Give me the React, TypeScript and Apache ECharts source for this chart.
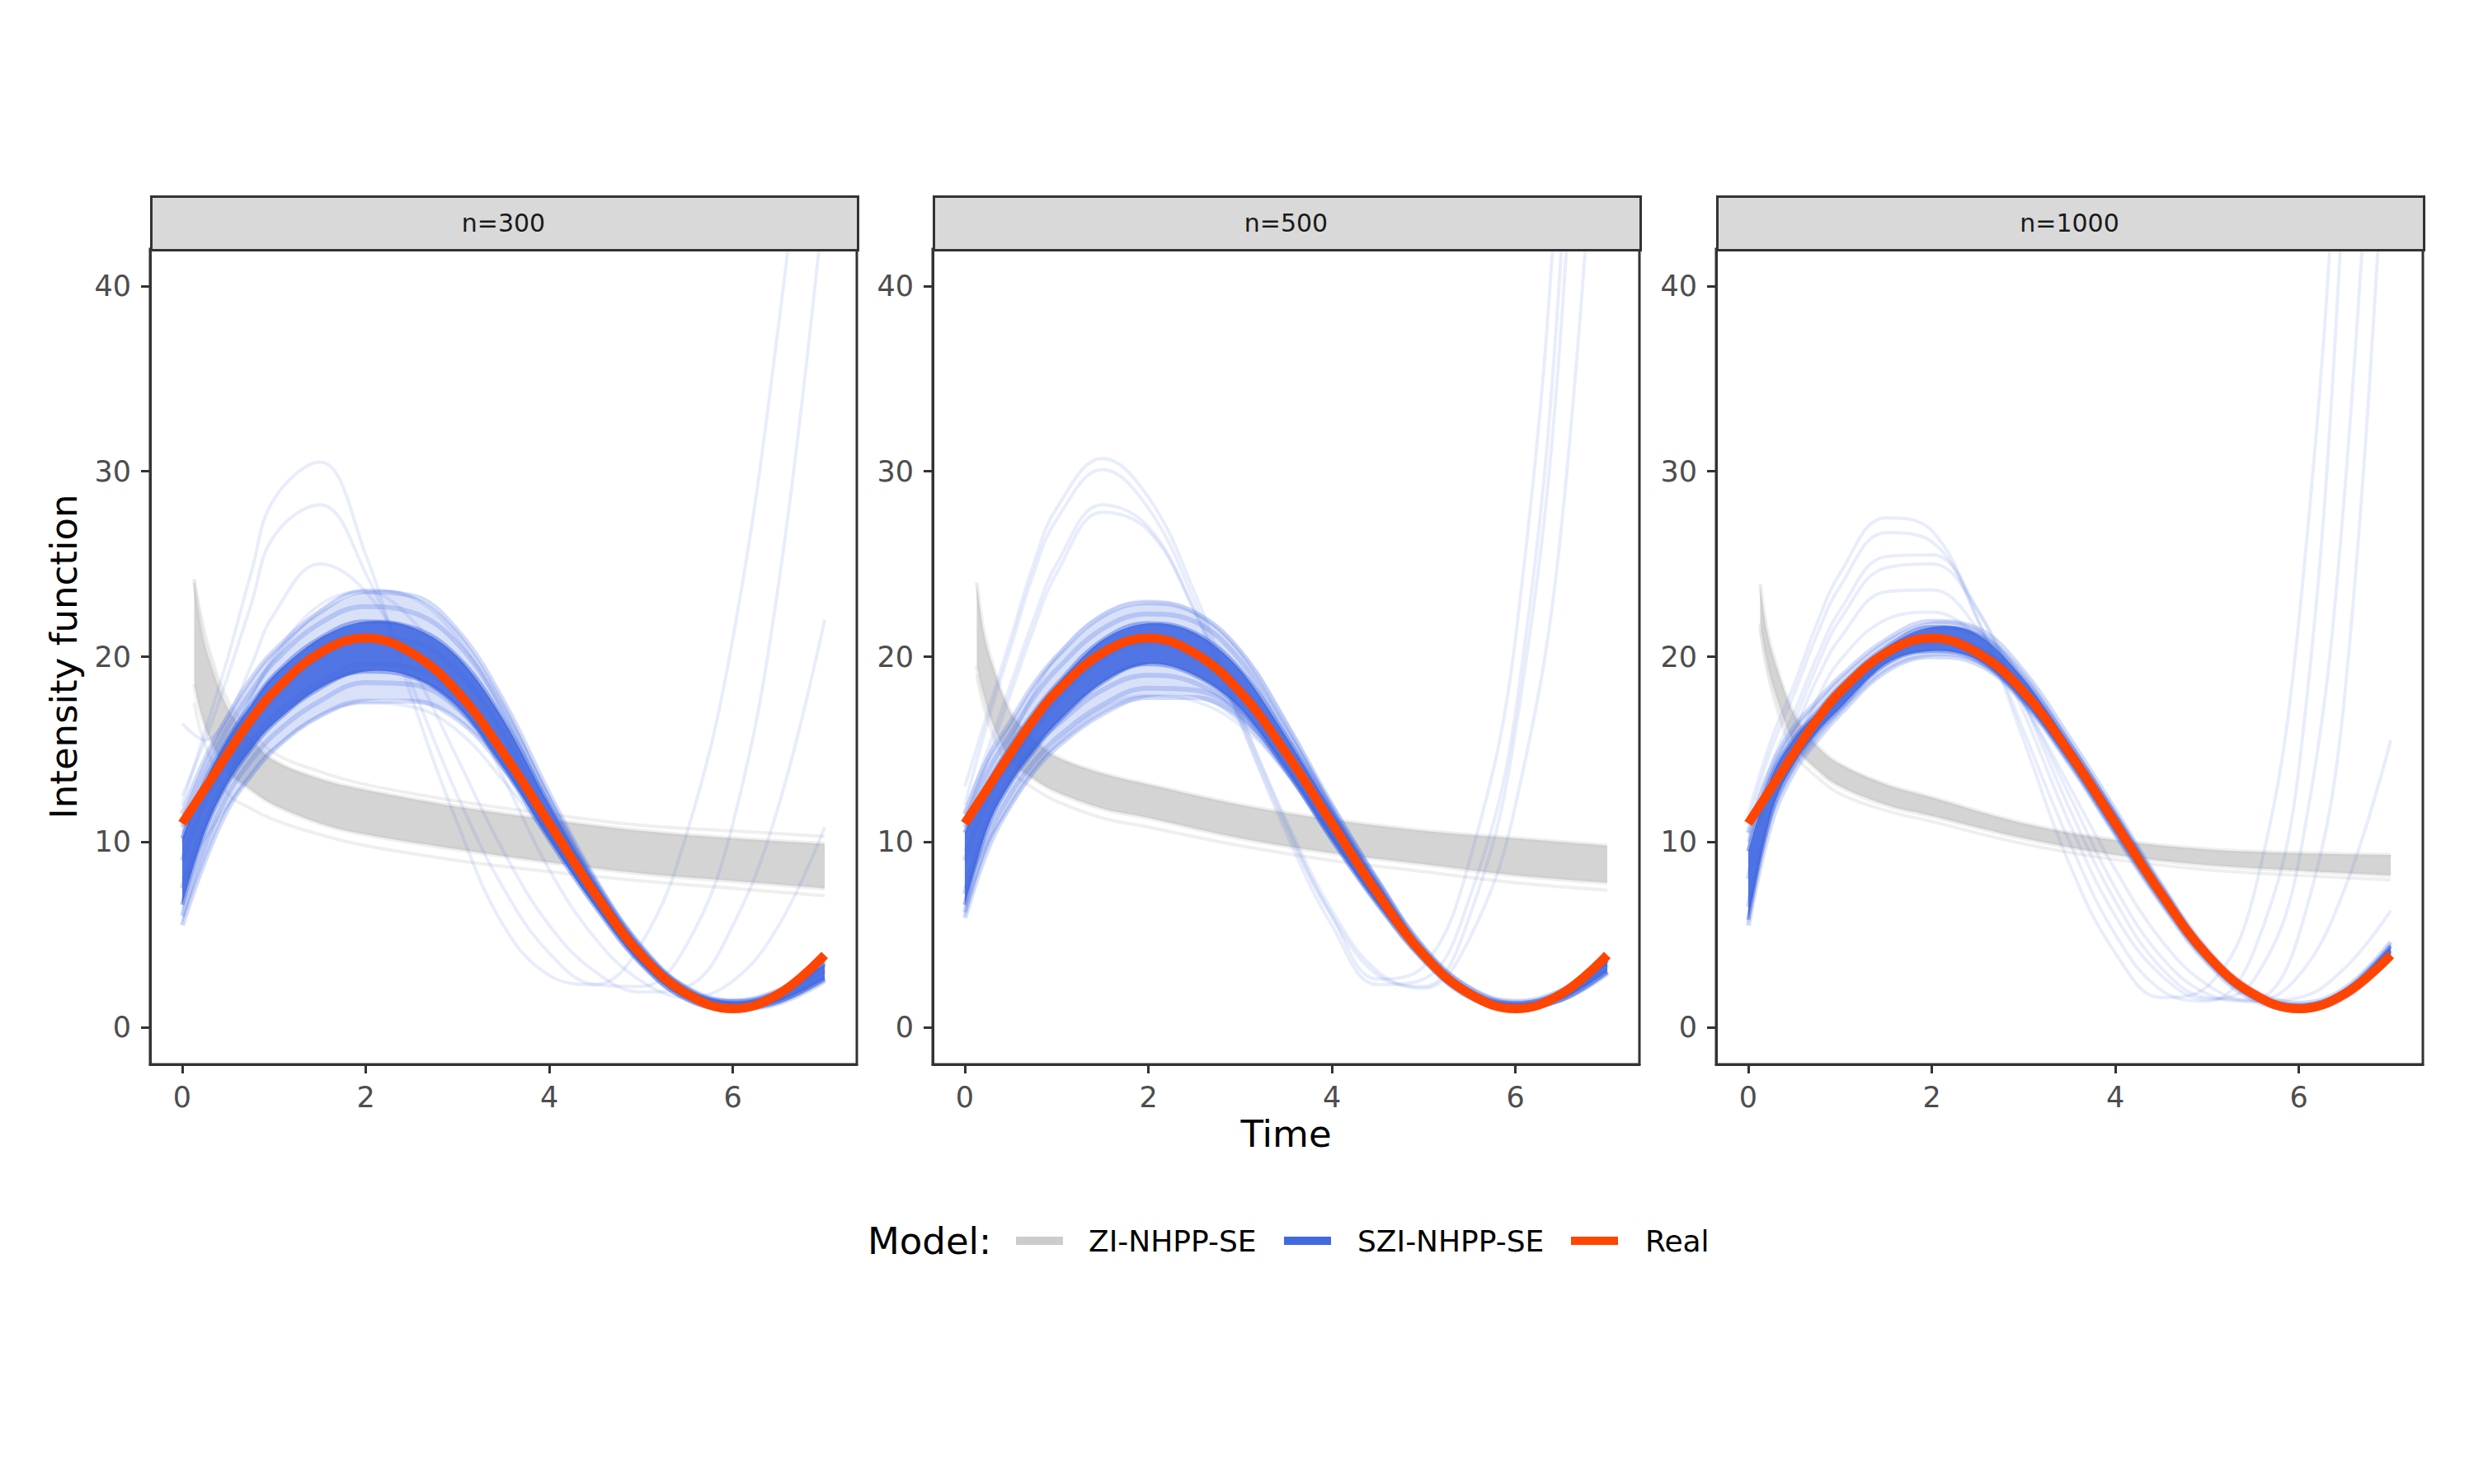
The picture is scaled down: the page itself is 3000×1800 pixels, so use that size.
import React, { useEffect, useRef } from 'react';
import * as echarts from 'echarts';

// ---------- data ----------
const PANEL_LABELS = ['n=300', 'n=500', 'n=1000'];
const X_TICKS = [0, 2, 4, 6];
const Y_TICKS = [0, 10, 20, 30, 40];

const T = [0, 0.25, 0.5, 0.75, 1, 1.5, 2, 2.5, 3, 3.5, 4, 4.5, 5, 5.5, 6, 6.5, 7];
const TG = [0.13, 0.2, 0.3, 0.5, 0.75, 1, 1.5, 2, 3, 4, 5, 6, 7];

const REAL = [11, 12.9, 14.8, 16.6, 18.1, 20.2, 21, 20.2, 18.1, 14.8, 11, 7.2, 3.9, 1.8, 1, 1.8, 3.9];

// n=300
const ZI_HI_300 = [24.2, 21.8, 19.8, 17.2, 15.6, 14.4, 13.4, 12.8, 11.9, 11.2, 10.6, 10.2, 9.9];
const ZI_LO_300 = [18.5, 17.0, 15.6, 13.8, 12.8, 12.0, 11.0, 10.4, 9.6, 8.9, 8.3, 7.9, 7.5];
const ZI_FAINT_300 = [
  [17.5, 16, 14.6, 12.6, 11.8, 11.2, 10.4, 9.8, 9.0, 8.4, 7.9, 7.5, 7.1],
  [24, 22.3, 20.3, 17.6, 16.0, 14.8, 13.8, 13.1, 12.2, 11.5, 10.9, 10.6, 10.3],
];
const SZI_HI_300 = [10.2, 13.3, 15.6, 17.4, 19.0, 21.0, 21.9, 21.6, 20.0, 16.6, 12.0, 7.8, 4.3, 2.1, 1.4, 1.9, 3.4];
const SZI_LO_300 = [6.6, 10.6, 13.2, 15.0, 16.4, 18.3, 19.2, 18.9, 17.3, 14.0, 10.1, 6.5, 3.4, 1.5, 1.0, 1.4, 2.6];
const SZI_OUTER_HI_300 = [11.5, 14.5, 16.8, 18.8, 20.3, 22.4, 23.5, 23.3, 21.4, 17.6, 12.6, 8.0, 4.4, 2.1, 1.4, 2.0, 3.6];
const SZI_OUTER_LO_300 = [5.5, 9.0, 11.8, 13.6, 15.0, 16.8, 17.6, 17.6, 16.6, 14.0, 10.1, 6.5, 3.4, 1.5, 1.0, 1.3, 2.5];
const SZI_LINES_300 = [
  [11.5, 14.5, 16.8, 18.8, 20.3, 22.4, 23.5, 23.3, 21.4, 17.6, 12.6, 8.0, 4.3, 2.0, 1.3, 1.9, 3.5],
  [10.8, 13.8, 16.2, 18.1, 19.7, 21.8, 22.7, 22.4, 20.7, 17.1, 12.3, 7.9, 4.4, 2.1, 1.4, 2.0, 3.6],
  [7.5, 11.0, 13.5, 15.3, 16.8, 18.6, 19.6, 19.4, 17.9, 14.6, 10.6, 6.8, 3.6, 1.6, 1.0, 1.4, 2.7],
  [6.0, 9.8, 12.6, 14.4, 15.8, 17.6, 18.6, 18.5, 17.2, 14.2, 10.4, 6.7, 3.5, 1.5, 1.0, 1.3, 2.5],
  [5.5, 9.0, 11.8, 13.6, 15.0, 16.8, 17.6, 17.6, 16.6, 14.0, 10.5, 6.9, 3.8, 1.7, 1.1, 1.4, 2.6],
  [9.0, 12.2, 14.6, 16.4, 18.0, 20.0, 21.0, 20.8, 19.2, 15.8, 11.3, 7.3, 4.0, 1.9, 1.2, 1.7, 3.1],
];
const SZI_OUT_300 = [
  [12, 16, 20, 24.5, 28.5, 30.5, 25.5, 17.8, 11, 5.5, 2.8, 2.3, 4.5, 10.5, 21, 38, 60],
  [12.5, 15.5, 19, 22.8, 26.5, 28.2, 24.5, 18.5, 12.5, 7.5, 4, 2.3, 2.2, 4.5, 11, 24, 45],
  [16.4, 15.5, 16.8, 19.5, 22.3, 25, 23.5, 19.5, 14.5, 9.5, 5.5, 3, 1.9, 2.2, 5.5, 12, 22],
  [10.5, 13, 15.5, 17.8, 20, 22.8, 23.5, 22, 18.5, 13.5, 8.5, 4.8, 2.5, 1.6, 2.5, 5.5, 10.8],
  [8, 10.2, 12, 13.6, 15, 16.8, 17.5, 17.3, 16, 13.3, 10.2, 6.8, 4, 2.2, 1.5, 2, 3],
  [10, 13, 15.5, 17.8, 19.8, 22.5, 23.6, 23.2, 21, 17, 12, 7.2, 3.5, 1.6, 1.2, 2, 3.3],
];

// n=500
const ZI_HI_500 = [24.0, 21.5, 19.6, 17.0, 15.6, 14.6, 13.7, 13.1, 12.0, 11.2, 10.6, 10.2, 9.8];
const ZI_LO_500 = [19.5, 18.0, 16.4, 14.4, 13.4, 12.7, 11.8, 11.3, 10.2, 9.4, 8.8, 8.2, 7.8];
const ZI_FAINT_500 = [
  [19, 17.4, 15.9, 13.9, 12.9, 12.2, 11.3, 10.8, 9.8, 9.0, 8.4, 7.8, 7.4],
];
const SZI_HI_500 = [10.5, 13.2, 15.2, 17.0, 18.5, 20.9, 21.8, 21.3, 19.3, 15.7, 11.7, 7.8, 4.2, 2.0, 1.3, 1.9, 3.6];
const SZI_LO_500 = [6.6, 10.8, 13.2, 14.9, 16.4, 18.6, 19.6, 19.0, 17.2, 13.9, 10.1, 6.6, 3.6, 1.6, 1.0, 1.5, 3.0];
const SZI_OUTER_HI_500 = [11.5, 14.5, 16.5, 18.5, 20.0, 22.2, 22.9, 22.4, 20.3, 16.4, 12.0, 7.9, 4.3, 2.1, 1.4, 2.0, 3.7];
const SZI_OUTER_LO_500 = [5.9, 9.6, 12.0, 13.8, 15.1, 16.9, 17.8, 17.8, 16.6, 13.8, 10.1, 6.6, 3.6, 1.6, 1.0, 1.5, 2.9];
const SZI_LINES_500 = [
  [11.5, 14.5, 16.5, 18.5, 20.0, 22.2, 22.9, 22.4, 20.3, 16.4, 12.0, 7.9, 4.3, 2.1, 1.4, 2.0, 3.7],
  [10.8, 13.8, 15.8, 17.8, 19.3, 21.5, 22.3, 21.9, 19.8, 16.0, 11.9, 7.9, 4.3, 2.1, 1.3, 1.9, 3.6],
  [7.2, 11.2, 13.4, 15.1, 16.3, 18.2, 19.0, 18.6, 17.0, 13.9, 10.2, 6.7, 3.7, 1.7, 1.1, 1.5, 3.0],
  [6.2, 10.2, 12.6, 14.3, 15.6, 17.4, 18.3, 18.2, 16.9, 14.0, 10.4, 6.9, 3.8, 1.8, 1.1, 1.5, 3.0],
  [5.9, 9.6, 12.0, 13.8, 15.1, 16.9, 17.8, 17.8, 16.6, 13.8, 10.3, 6.9, 3.9, 1.9, 1.2, 1.5, 2.9],
  [9.0, 12.3, 14.4, 16.1, 17.6, 19.9, 20.8, 20.3, 18.4, 15.0, 11.1, 7.3, 4.0, 1.9, 1.2, 1.7, 3.4],
];
const SZI_OUT_500 = [
  [13, 17, 21, 25, 28, 30.7, 28.6, 23.5, 17, 11, 6, 2.6, 3.3, 9, 21, 50, 110],
  [12, 16.5, 20.5, 24.5, 27.4, 30.1, 28, 23, 16.5, 10.5, 5.5, 2.3, 2.6, 7, 17, 42, 95],
  [11.5, 15, 18.5, 22, 25, 28.2, 27, 22.5, 16.5, 10.8, 6, 2.8, 2.2, 6, 16, 38, 85],
  [11, 14.5, 18, 21.5, 24.5, 27.8, 26.8, 22.5, 16.8, 11.2, 6.3, 3, 2.1, 4.8, 12, 27, 60],
  [7.5, 10, 12, 13.8, 15.3, 17.2, 17.9, 17.6, 16.3, 13.8, 10.6, 7.2, 4.2, 2.2, 1.4, 1.8, 3.2],
  [9.5, 12.8, 15.5, 18, 20, 22.3, 23, 22.4, 20.3, 16.5, 11.8, 7.2, 3.6, 1.7, 1.3, 2, 3.4],
];

// n=1000
const ZI_HI_1000 = [23.9, 21.5, 19.6, 16.9, 15.2, 14.2, 13.1, 12.4, 11.0, 10.1, 9.6, 9.4, 9.3];
const ZI_LO_1000 = [21.8, 19.8, 17.9, 15.3, 13.9, 13.0, 12.0, 11.4, 10.2, 9.3, 8.75, 8.45, 8.2];
const ZI_FAINT_1000 = [
  [21.5, 19.4, 17.4, 14.8, 13.5, 12.6, 11.7, 11.1, 9.9, 9.05, 8.5, 8.2, 7.95],
];
const SZI_HI_1000 = [9.5, 13.5, 15.6, 17.0, 18.4, 20.5, 21.6, 21.2, 18.8, 15.3, 11.5, 7.6, 4.1, 1.9, 1.2, 2.0, 4.4];
const SZI_LO_1000 = [5.8, 11.5, 14.2, 15.9, 17.2, 19.6, 20.3, 19.8, 17.6, 14.3, 10.5, 6.8, 3.6, 1.6, 1.0, 1.7, 3.9];
const SZI_OUTER_HI_1000 = [10.5, 14.0, 16.2, 17.6, 18.9, 20.9, 21.9, 21.5, 19.2, 15.6, 11.7, 7.7, 4.2, 2.0, 1.3, 2.1, 4.6];
const SZI_OUTER_LO_1000 = [5.5, 11.0, 13.8, 15.5, 16.9, 19.2, 20.0, 19.6, 17.5, 14.2, 10.4, 6.7, 3.5, 1.5, 1.0, 1.6, 3.8];
const SZI_LINES_1000 = [
  [10.5, 14.0, 16.2, 17.6, 18.9, 20.9, 21.9, 21.5, 19.2, 15.6, 11.7, 7.7, 4.2, 2.0, 1.3, 2.1, 4.6],
  [8.0, 12.8, 15.0, 16.5, 17.8, 20.0, 21.0, 20.5, 18.2, 14.8, 11.0, 7.2, 3.9, 1.8, 1.1, 1.8, 4.1],
  [5.5, 11.0, 13.8, 15.5, 16.9, 19.2, 20.0, 19.6, 17.5, 14.2, 10.4, 6.7, 3.5, 1.5, 1.0, 1.6, 3.8],
  [6.5, 11.8, 14.6, 16.2, 17.6, 19.9, 20.8, 20.4, 18.3, 14.9, 11.1, 7.3, 4.0, 1.8, 1.1, 1.8, 4.2],
];
const SZI_OUT_1000 = [
  [11.5, 15.5, 18.5, 21.8, 24.5, 27.5, 26.8, 22, 15.5, 8.8, 4, 1.6, 2.2, 7, 22, 56, 110],
  [11, 15, 18, 21.2, 23.8, 26.7, 26.2, 22, 16, 10, 5, 2.0, 1.4, 4, 14, 46, 95],
  [10.5, 14.2, 17, 20, 22.5, 25.4, 25.5, 22.5, 17, 11, 6, 2.8, 1.5, 2.5, 9, 29, 70],
  [10, 13.8, 16.5, 19.5, 22, 24.8, 25, 22.5, 17.5, 11.8, 6.8, 3.2, 1.6, 1.5, 5, 18, 55],
  [10, 13.5, 16, 18.8, 21, 23.5, 23.6, 21.5, 17.5, 12.5, 7.5, 3.8, 1.8, 1.4, 2.8, 7.5, 15.5],
  [9.5, 12.8, 15, 17.7, 19.8, 22, 22.4, 21, 17.5, 13, 8.5, 4.7, 2.3, 1.4, 1.6, 3.2, 6.3],
];

const LEGEND_LABELS = ['ZI-NHPP-SE', 'SZI-NHPP-SE', 'Real'];

// ---------- styling / layout ----------
const FONT = 'DejaVu Sans';
const GRAY = '#bebebe';
const BLUE = '#4169E1';
const RED = '#FF4500';
const FRAME = '#333333';
const GRID_LEFT = [182, 1131, 2081];
const GRID_TOP = 302;
const GRID_W = 857;
const GRID_H = 989;
const STRIP_TOP = 237;
const STRIP_H = 65;

const PANELS = [
  { ziHi: ZI_HI_300, ziLo: ZI_LO_300, ziFaint: ZI_FAINT_300, sHi: SZI_HI_300, sLo: SZI_LO_300, oHi: SZI_OUTER_HI_300, oLo: SZI_OUTER_LO_300, sLines: SZI_LINES_300, sOut: SZI_OUT_300 },
  { ziHi: ZI_HI_500, ziLo: ZI_LO_500, ziFaint: ZI_FAINT_500, sHi: SZI_HI_500, sLo: SZI_LO_500, oHi: SZI_OUTER_HI_500, oLo: SZI_OUTER_LO_500, sLines: SZI_LINES_500, sOut: SZI_OUT_500 },
  { ziHi: ZI_HI_1000, ziLo: ZI_LO_1000, ziFaint: ZI_FAINT_1000, sHi: SZI_HI_1000, sLo: SZI_LO_1000, oHi: SZI_OUTER_HI_1000, oLo: SZI_OUTER_LO_1000, sLines: SZI_LINES_1000, sOut: SZI_OUT_1000 },
];

const pts = (xs: number[], ys: number[]) => xs.map((x, k) => [x, ys[k]]);

// Catmull-Rom segments through pixel points (drawing helper)
function curveThrough(p: number[][]): string {
  let d = '';
  for (let j = 0; j < p.length - 1; j++) {
    const p0 = p[Math.max(j - 1, 0)];
    const p1 = p[j];
    const p2 = p[j + 1];
    const p3 = p[Math.min(j + 2, p.length - 1)];
    const c1x = p1[0] + (p2[0] - p0[0]) / 6;
    const c1y = p1[1] + (p2[1] - p0[1]) / 6;
    const c2x = p2[0] - (p3[0] - p1[0]) / 6;
    const c2y = p2[1] - (p3[1] - p1[1]) / 6;
    d += ` C${c1x.toFixed(2)},${c1y.toFixed(2)} ${c2x.toFixed(2)},${c2y.toFixed(2)} ${p2[0].toFixed(2)},${p2[1].toFixed(2)}`;
  }
  return d;
}

// a filled band between a lower and an upper curve, placed through the axes' scales
function bandSeries(i: number, name: string, xs: number[], lo: number[], hi: number[], color: string, opacity: number, z: number) {
  return {
    type: 'custom',
    name,
    coordinateSystem: 'cartesian2d',
    xAxisIndex: i,
    yAxisIndex: i,
    silent: true,
    clip: true,
    z,
    data: xs.map((x, k) => [x, lo[k], hi[k]]),
    encode: { x: 0, y: [1, 2] },
    renderItem: (params: any, api: any) => {
      if (params.dataIndex !== 0) return null;
      const up = xs.map((x, k) => api.coord([x, hi[k]]));
      const dn = xs.map((x, k) => api.coord([x, lo[k]])).reverse();
      const d =
        `M${up[0][0].toFixed(2)},${up[0][1].toFixed(2)}` + curveThrough(up) +
        ` L${dn[0][0].toFixed(2)},${dn[0][1].toFixed(2)}` + curveThrough(dn) + ' Z';
      return {
        type: 'path',
        shape: { pathData: d },
        style: { fill: color, opacity },
      };
    },
  };
}

function buildOption() {
  const grids: any[] = [];
  const xAxes: any[] = [];
  const yAxes: any[] = [];
  const series: any[] = [];
  const graphics: any[] = [];

  PANELS.forEach((p, i) => {
    grids.push({
      left: GRID_LEFT[i], top: GRID_TOP, width: GRID_W, height: GRID_H,
      show: true, borderColor: FRAME, borderWidth: 3, backgroundColor: 'transparent',
      containLabel: false,
    });
    xAxes.push({
      type: 'value', gridIndex: i, min: -0.35, max: 7.35,
      axisLine: { show: true, onZero: false, lineStyle: { color: FRAME, width: 3 } },
      axisTick: { show: true, length: 11, lineStyle: { color: FRAME, width: 3 }, customValues: X_TICKS },
      axisLabel: { show: true, customValues: X_TICKS, fontSize: 35, color: '#4d4d4d', margin: 22, fontFamily: FONT },
      splitLine: { show: false },
    });
    yAxes.push({
      type: 'value', gridIndex: i, min: -2, max: 42,
      axisLine: { show: true, onZero: false, lineStyle: { color: FRAME, width: 3 } },
      axisTick: { show: true, length: 11, lineStyle: { color: FRAME, width: 3 }, customValues: Y_TICKS },
      axisLabel: { show: true, customValues: Y_TICKS, fontSize: 35, color: '#4d4d4d', margin: 23, fontFamily: FONT },
      splitLine: { show: false },
    });

    const common = {
      type: 'line', xAxisIndex: i, yAxisIndex: i, symbol: 'none', showSymbol: false,
      smooth: 0.4, silent: true, emphasis: { disabled: true }, clip: true,
    };

    // ZI-NHPP-SE (grey bundle)
    p.ziFaint.forEach((ys) => series.push({
      ...common, name: LEGEND_LABELS[0], data: pts(TG, ys),
      lineStyle: { color: GRAY, width: 4, opacity: 0.25 }, z: 1,
    }));
    series.push(bandSeries(i, LEGEND_LABELS[0], TG, p.ziLo, p.ziHi, GRAY, 0.66, 1));
    series.push({
      ...common, name: LEGEND_LABELS[0], data: pts(TG, p.ziLo),
      lineStyle: { color: GRAY, width: 5, opacity: 0.25 }, z: 1,
    });
    series.push({
      ...common, name: LEGEND_LABELS[0], data: pts(TG, p.ziHi),
      lineStyle: { color: GRAY, width: 5, opacity: 0.25 }, z: 1,
    });

    // SZI-NHPP-SE (blue bundle)
    p.sOut.forEach((ys) => series.push({
      ...common, name: LEGEND_LABELS[1], data: pts(T, ys),
      lineStyle: { color: BLUE, width: 4, opacity: 0.12 }, z: 2,
    }));
    series.push(bandSeries(i, LEGEND_LABELS[1], T, p.oLo, p.oHi, BLUE, 0.2, 3));
    p.sLines.forEach((ys) => series.push({
      ...common, name: LEGEND_LABELS[1], data: pts(T, ys),
      lineStyle: { color: BLUE, width: 6, opacity: 0.24 }, z: 3,
    }));
    series.push(bandSeries(i, LEGEND_LABELS[1], T, p.sLo, p.sHi, BLUE, 0.9, 3));
    series.push({
      ...common, name: LEGEND_LABELS[1], data: pts(T, p.sLo),
      lineStyle: { color: BLUE, width: 5, opacity: 0.45 }, z: 3,
    });
    series.push({
      ...common, name: LEGEND_LABELS[1], data: pts(T, p.sHi),
      lineStyle: { color: BLUE, width: 5, opacity: 0.45 }, z: 3,
    });

    // Real
    series.push({
      ...common, name: LEGEND_LABELS[2], data: pts(T, REAL),
      lineStyle: { color: RED, width: 11, opacity: 1, cap: 'butt' }, z: 10,
    });

    // facet strip
    graphics.push({
      type: 'rect', left: GRID_LEFT[i], top: STRIP_TOP, z: 5,
      shape: { width: GRID_W, height: STRIP_H },
      style: { fill: '#d9d9d9', stroke: FRAME, lineWidth: 3 },
    });
    graphics.push({
      type: 'text', x: GRID_LEFT[i] + GRID_W / 2, y: STRIP_TOP + STRIP_H / 2 + 1, z: 6,
      style: { text: PANEL_LABELS[i], fontSize: 30, fontFamily: FONT, fill: '#1a1a1a', align: 'center', verticalAlign: 'middle' },
    });
  });

  // axis titles
  graphics.push({
    type: 'text', x: 77, y: GRID_TOP + GRID_H / 2, rotation: Math.PI / 2, z: 6,
    style: { text: 'Intensity function', fontSize: 45, fontFamily: FONT, fill: '#000', align: 'center', verticalAlign: 'middle' },
  });
  graphics.push({
    type: 'text', x: GRID_LEFT[1] + GRID_W / 2, y: 1375, z: 6,
    style: { text: 'Time', fontSize: 45, fontFamily: FONT, fill: '#000', align: 'center', verticalAlign: 'middle' },
  });

  // legend
  const LY = 1505;
  graphics.push({
    type: 'text', x: 1052, y: LY, z: 6,
    style: { text: 'Model:', fontSize: 45, fontFamily: FONT, fill: '#000', align: 'left', verticalAlign: 'middle' },
  });
  const keyX = [1232, 1557, 1905];
  const textX = [1320, 1646, 1995];
  const keyColors = ['#cccccc', BLUE, RED];
  LEGEND_LABELS.forEach((lab, k) => {
    graphics.push({
      type: 'rect', left: keyX[k], top: LY - 5, z: 6,
      shape: { width: 57, height: 10 },
      style: { fill: keyColors[k] },
    });
    graphics.push({
      type: 'text', x: textX[k], y: LY, z: 6,
      style: { text: lab, fontSize: 36, fontFamily: FONT, fill: '#000', align: 'left', verticalAlign: 'middle' },
    });
  });

  return {
    animation: false,
    backgroundColor: '#ffffff',
    textStyle: { fontFamily: FONT },
    grid: grids,
    xAxis: xAxes,
    yAxis: yAxes,
    series,
    graphic: { elements: graphics },
  };
}

export default function App() {
  const ref = useRef<HTMLDivElement>(null);
  useEffect(() => {
    if (!ref.current) return;
    const chart = echarts.init(ref.current, null, { renderer: 'svg' });
    chart.setOption(buildOption() as any);
    return () => chart.dispose();
  }, []);
  return (
    <div
      ref={ref}
      style={{ position: 'fixed', left: 0, top: 0, width: 3000, height: 1800, background: '#fff' }}
    />
  );
}
